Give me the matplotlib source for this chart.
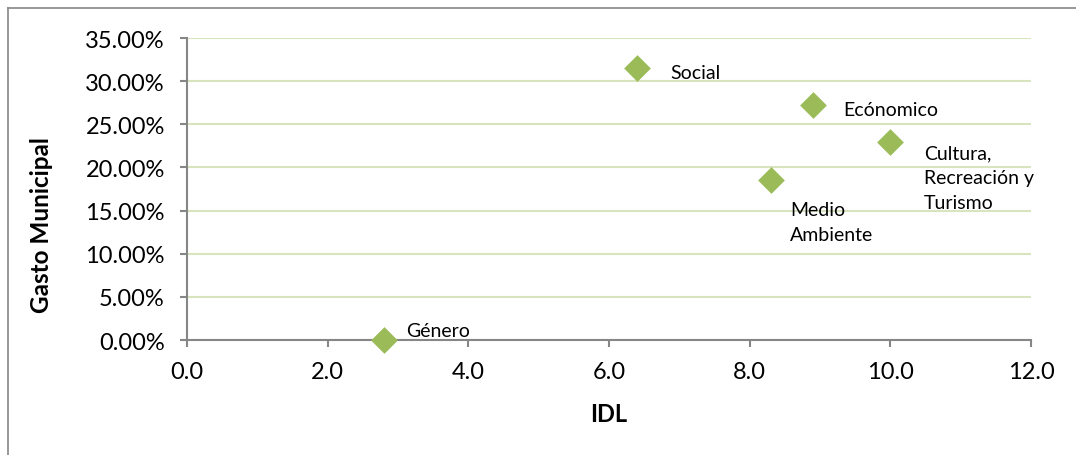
import matplotlib
matplotlib.use('Agg')
import matplotlib.pyplot as plt
from matplotlib.lines import Line2D
from matplotlib.ticker import FuncFormatter

# data
categories = ['Género', 'Social', 'Ecónomico', 'Cultura,\nRecreación y\nTurismo',
              'Medio\nAmbiente']
idl = [2.8, 6.4, 8.9, 10.0, 8.3]
gasto = [0.0, 0.315, 0.272, 0.230, 0.185]
# label offsets in points (dx, dy) relative to each point
label_offsets = [(16, 7), (24, -3), (22, -3), (24, -2), (14, -15)]

x_ticks = [0, 2, 4, 6, 8, 10, 12]
y_ticks = [0.0, 0.05, 0.10, 0.15, 0.20, 0.25, 0.30, 0.35]

plt.rcParams['font.family'] = ['Lato', 'DejaVu Sans']

fig = plt.figure(figsize=(10.76, 4.56), dpi=100)
ax = fig.add_axes([187 / 1076, 1 - 341 / 456, (1031 - 187) / 1076, (341 - 39) / 456])

axis_grey = '#868686'
grid_green = '#d7e4bd'
marker_green = '#9bbb59'

ax.scatter(idl, gasto, marker='D', s=185, color=marker_green, zorder=5,
           clip_on=False, linewidths=0)
for name, x, y, (dx, dy) in zip(categories, idl, gasto, label_offsets):
    ax.annotate(name, (x, y), xytext=(dx, dy), textcoords='offset points',
                ha='left', va='top' if '\n' in name else 'center',
                fontsize=14, linespacing=1.55, color='black')

ax.set_xlim(0, 12)
ax.set_ylim(0, 0.35)
ax.set_xticks(x_ticks)
ax.set_yticks(y_ticks)
ax.xaxis.set_major_formatter(FuncFormatter(lambda v, p: '%.1f' % v))
ax.yaxis.set_major_formatter(FuncFormatter(lambda v, p: '%.2f%%' % (v * 100)))

ax.grid(axis='y', color=grid_green, linewidth=1.5, zorder=0)
ax.set_axisbelow(True)
for side in ['top', 'right']:
    ax.spines[side].set_visible(False)
for side in ['left', 'bottom']:
    ax.spines[side].set_color(axis_grey)
    ax.spines[side].set_linewidth(1.5)
ax.tick_params(axis='both', direction='out', length=5, width=1.5,
               color=axis_grey, labelsize=17, labelcolor='black')
ax.tick_params(axis='y', pad=11)
ax.tick_params(axis='x', pad=10)

ax.set_xlabel('IDL', fontsize=17, fontweight='bold', va='center')
ax.xaxis.set_label_coords(0.5, -0.245)
ax.set_ylabel('Gasto Municipal', fontsize=17.5, fontweight='bold', va='center')
ax.yaxis.set_label_coords(-0.172, 0.384)

# chart-area border (top and left only visible in the crop)
fig.add_artist(Line2D([8 / 1076, 1], [1 - 9 / 456, 1 - 9 / 456],
                      color=axis_grey, linewidth=1.2))
fig.add_artist(Line2D([8 / 1076, 8 / 1076], [0, 1 - 9 / 456],
                      color=axis_grey, linewidth=1.2))

fig.savefig('out.png', dpi=100)
